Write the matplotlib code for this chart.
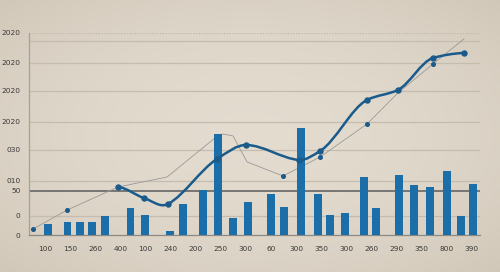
import matplotlib
matplotlib.use("Agg")
from matplotlib import pyplot as plt
from matplotlib.path import Path
from matplotlib.patches import PathPatch
import numpy as np

# x labels along the bottom (positions 0..17)
x_labels = ['100', '150', '260', '400', '100', '240', '200', '250', '300',
            '60', '300', '350', '300', '260', '290', '350', '800', '390']

# y ticks (value) and their printed labels
y_ticks = [0, 19, 44, 54, 85, 113, 144, 172, 202]
y_labels = ['0', '0', '50', '010', '030', '2020', '2020', '2020', '2020']
y_grid = [19, 54, 85, 113, 144, 172, 194]

# bars
bar_pos = [0.12, 0.88, 1.39, 1.87, 2.39, 3.39, 3.98, 4.98, 5.50, 6.29, 6.89,
           7.49, 8.09, 9.00, 9.52, 10.20, 10.88, 11.35, 11.95, 12.71, 13.19,
           14.10, 14.70, 15.34, 16.02, 16.57, 17.05]
bar_val = [11, 13, 13, 13, 19, 27, 20, 4, 31, 45, 101, 17, 33, 41, 28, 107,
           41, 20, 22, 58, 27, 60, 50, 48, 64, 19, 51]

# thick smooth series
curve_x = [2.91, 3.94, 4.90, 6.85, 8.01, 10.12, 10.96, 12.83, 14.06, 15.46, 16.69]
curve_y = [48, 37, 31, 76, 90, 75, 84, 135, 145, 177, 182]

# thin grey series
trend_x = [-0.48, 0.88, 2.91, 4.86, 6.77, 7.09, 7.49, 8.05, 9.48, 10.96,
           12.83, 14.06, 15.46, 16.69]
trend_y = [6, 25, 48, 58, 97, 101, 99, 73, 59, 78, 111, 142, 171, 196]
trend_marks = [0, 1, 8, 9, 10, 12]

bg = '#dcd5c9'
bar_col = '#1b6ea8'
line_col = '#1a5b8c'
text_col = '#3a3a3a'

fig = plt.figure(figsize=(5.0, 2.72), dpi=100, facecolor=bg)

# soft vignette background
bgax = fig.add_axes([0, 0, 1, 1], zorder=-10)
gx, gy = np.meshgrid(np.linspace(-1, 1, 200), np.linspace(-1, 1, 110))
shade = np.clip(1 - 0.35 * (gx ** 2 + gy ** 2), 0, 1)
c0 = np.array([0.79, 0.75, 0.69])
c1 = np.array([0.89, 0.86, 0.81])
img = c0[None, None, :] + (c1 - c0)[None, None, :] * shade[:, :, None]
bgax.imshow(img, aspect='auto', extent=[0, 1, 0, 1], interpolation='bilinear')
bgax.axis('off')

ax = fig.add_axes([0.058, 0.136, 0.902, 0.743])
ax.set_facecolor('none')

for g in y_grid:
    ax.axhline(g, color='#c4bcaf', lw=0.9, zorder=1)
ax.axhline(202, color='#bdb5a8', lw=0.8, ls=(0, (1, 1.5)), zorder=1)
ax.axhline(44, color='#6e6e6e', lw=1.3, zorder=2)

ax.bar(bar_pos, bar_val, width=0.29, color=bar_col, zorder=3)

ax.plot(trend_x, trend_y, color='#9a9a9a', lw=0.6, zorder=2.5)
ax.plot([trend_x[i] for i in trend_marks], [trend_y[i] for i in trend_marks],
        'o', color=line_col, ms=2.6, zorder=4)

# smooth line through the points (cubic hermite drawn as bezier segments)
cx = np.array(curve_x, float)
cy = np.array(curve_y, float)
n = len(cx)
slope = np.diff(cy) / np.diff(cx)
tan = np.zeros(n)
tan[0] = slope[0]
tan[-1] = slope[-1] * 0.3
for i in range(1, n - 1):
    a, b = slope[i - 1], slope[i]
    if a * b > 0:
        tan[i] = 2 / (1 / a + 1 / b)
    else:
        tan[i] = (cy[i + 1] - cy[i - 1]) / (cx[i + 1] - cx[i - 1])
tan[0] = 0.2 * slope[0]
verts = [(cx[0], cy[0])]
codes = [Path.MOVETO]
for i in range(n - 1):
    h = cx[i + 1] - cx[i]
    verts += [(cx[i] + h / 3, cy[i] + tan[i] * h / 3),
              (cx[i + 1] - h / 3, cy[i + 1] - tan[i + 1] * h / 3),
              (cx[i + 1], cy[i + 1])]
    codes += [Path.CURVE4] * 3
ax.add_patch(PathPatch(Path(verts, codes), fill=False, edgecolor=line_col,
                       lw=1.8, zorder=5, capstyle='round'))
ax.plot(curve_x, curve_y, 'o', color=line_col, ms=3.6, zorder=6)

ax.set_xlim(-0.64, 17.33)
ax.set_ylim(0, 202)
ax.set_xticks(range(len(x_labels)))
ax.set_xticklabels(x_labels)
ax.set_yticks(y_ticks)
ax.set_yticklabels(y_labels)
ax.tick_params(axis='both', length=0, labelsize=5.3, labelcolor=text_col)
ax.tick_params(axis='x', pad=8)
ax.tick_params(axis='y', pad=6)

for s in ['top', 'right']:
    ax.spines[s].set_visible(False)
ax.spines['left'].set_color('#a8a196')
ax.spines['left'].set_linewidth(0.9)
ax.spines['bottom'].set_color('#8e8980')
ax.spines['bottom'].set_linewidth(0.9)

fig.savefig('out.png', dpi=100, facecolor=bg)
